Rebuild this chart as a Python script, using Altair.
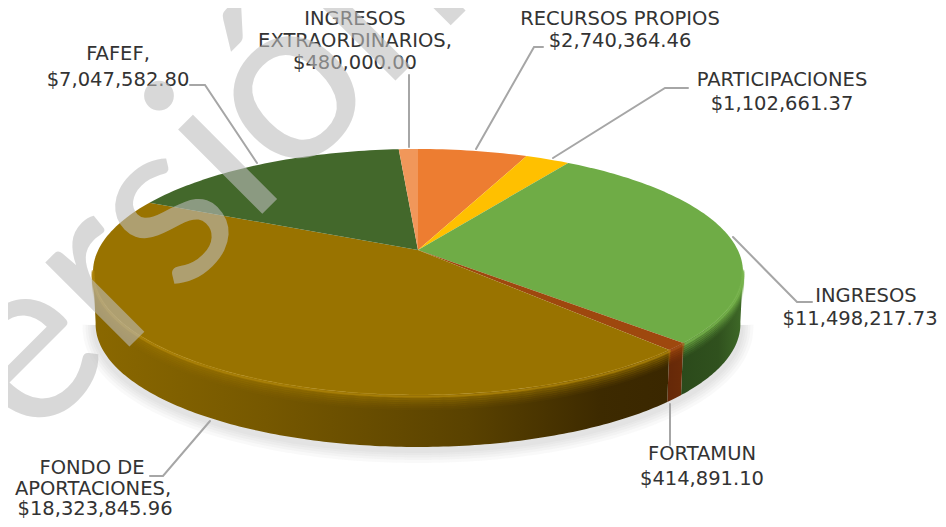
import math
import numpy as np
import pandas as pd
import altair as alt

# --- chart data
names = [["RECURSOS PROPIOS"], ["PARTICIPACIONES"], ["INGRESOS"], ["FORTAMUN"],
         ["FONDO DE", "APORTACIONES,"], ["FAFEF,"], ["INGRESOS", "EXTRAORDINARIOS,"]]
values = [2740364.46, 1102661.37, 11498217.73, 414891.10, 18323845.96, 7047582.80, 480000.00]
face_colors = ["#ed7d31", "#ffc000", "#6fac46", "#9e480e", "#997300", "#43682b", "#f1975a"]
rim_lights = [None, None, "#7cb850", "#a9521a", "#b68b0c", None, None]
wall_stops = [None, None,
              [(0, "#2b4a1b"), (0.6, "#30511e"), (1, "#3f6a28")],
              [(0, "#652808"), (1, "#6c2c08")],
              [(0, "#8a6800"), (0.3, "#765800"), (0.65, "#5a4200"), (0.88, "#3d2a00"), (1, "#3a2700")],
              None, None]

# --- layout
W, H = 930, 511
cx, cy, rx, ry = 418, 272, 325, 123      # top face ellipse
ax, ay, k = 418, 250, 0.38               # apex and tilt
depth = 52
label_xy = [[(620, 19), (620, 41)], [(782, 80), (782, 104)], [(866, 296), (860, 319)],
            [(702, 454), (702, 479)], [(92, 468), (93, 489), (95, 509)],
            [(118, 54), (118, 80)], [(355, 19), (355, 41), (355, 63)]]
leaders = [[(543, 47), (534, 47), (476, 149)],
           [(688, 88), (665, 88), (553, 158)],
           [(812, 302), (797, 302), (733, 237)],
           [(670, 445), (670, 404)],
           [(150, 476), (163, 476), (210, 421)],
           [(190, 85), (205, 85), (257, 163)],
           [(409, 75), (409, 147)]]
wm = dict(text="Versión", x=-70, y=546, size=235, angle=315)

xs = alt.X("x:Q", scale=alt.Scale(domain=[8, 938], nice=False, zero=False), axis=None)
ys = alt.Y("y:Q", scale=alt.Scale(domain=[519, 8], nice=False, zero=False), axis=None)

total = sum(values)
fracs = np.cumsum([0] + values) / total


def rim(f):
    """Point on the top ellipse for a share f of the pie, clockwise from 12 o'clock."""
    t = 2 * math.pi * f
    dx, dy = math.sin(t), -math.cos(t) * k
    ox, oy = (ax - cx) / rx, (ay - cy) / ry
    ux, uy = dx / rx, dy / ry
    a, b, c = ux**2 + uy**2, 2 * (ox * ux + oy * uy), ox**2 + oy**2 - 1
    s = (-b + math.sqrt(b * b - 4 * a * c)) / (2 * a)
    return ax + s * dx, ay + s * dy


def arc(f0, f1, n=None):
    n = n or max(4, int((f1 - f0) * 300))
    return [rim(f) for f in np.linspace(f0, f1, n)]


def front(pts):
    return [p for p in pts if p[1] >= cy - 2]


def bottom(p, d=depth, shrink=0.992):
    return cx + (p[0] - cx) * shrink, p[1] + d


def poly(pts):
    return pd.DataFrame({"x": [p[0] for p in pts], "y": [p[1] for p in pts], "o": range(len(pts))})


def shape(pts, fill):
    return alt.Chart(poly(pts)).mark_line(
        interpolate="linear-closed", fill=fill, strokeWidth=0
    ).encode(x=xs, y=ys, order="o:Q")


def path(pts, color, width, opacity=1.0):
    return alt.Chart(poly(pts)).mark_line(
        stroke=color, strokeWidth=width, opacity=opacity, strokeCap="round"
    ).encode(x=xs, y=ys, order="o:Q")


layers = []

# soft shadow under the disc
edge = [bottom(p, depth + 3) for p in front(arc(0, 1, 400))]
edge.sort(key=lambda p: p[0])
for w in (26, 20, 15, 10, 6):
    layers.append(path(edge, "#9a9a9a", w, 0.055))

# side walls, with soft band below the rim
for i, st in enumerate(wall_stops):
    if st is None:
        continue
    pts = front(arc(fracs[i], fracs[i + 1], 200))
    outline = pts + [bottom(p) for p in reversed(pts)]
    fill = alt.LinearGradient(gradient="linear", x1=0, x2=1, y1=0, y2=0,
                              stops=[alt.GradientStop(offset=o, color=c) for o, c in st])
    layers.append(shape(outline, fill))

for i, st in enumerate(wall_stops):
    if st is None:
        continue
    pts = front(arc(fracs[i], fracs[i + 1], 200))
    for off, op in zip((2, 4, 6, 8, 10, 12, 14), (0.75, 0.55, 0.42, 0.3, 0.2, 0.12, 0.06)):
        layers.append(path([(p[0], p[1] + off) for p in pts], face_colors[i], 2.4, op))

# top face
for i, c in enumerate(face_colors):
    pts = [(ax, ay)] + arc(fracs[i], fracs[i + 1])
    layers.append(shape(pts, c))

# light catch along the front edge of the top face
for i, c in enumerate(rim_lights):
    if c is None:
        continue
    pts = front(arc(fracs[i], fracs[i + 1], 200))
    layers.append(path([(p[0], p[1] + 1) for p in pts], c, 3, 0.6))

# leader lines
for pts in leaders:
    layers.append(path(pts, "#a6a6a6", 2))

# labels
rows = []
for nm, v, xy in zip(names, values, label_xy):
    lines = nm + [f"${v:,.2f}"]
    for line, (x, y) in zip(lines, xy):
        rows.append({"x": x, "y": y, "t": line})
layers.append(alt.Chart(pd.DataFrame(rows)).mark_text(
    font="DejaVu Sans", fontSize=19.5, color="#333333", align="center", baseline="middle"
).encode(x=xs, y=ys, text="t:N"))

# watermark
layers.append(alt.Chart(pd.DataFrame([{"x": wm["x"], "y": wm["y"], "t": wm["text"]}])).mark_text(
    font="Lato", fontSize=wm["size"], angle=wm["angle"], color="#bebebe",
    opacity=0.59, align="left", baseline="alphabetic"
).encode(x=xs, y=ys, text="t:N"))

chart = alt.layer(*layers).properties(
    width=W, height=H, padding=0, autosize=alt.AutoSizeParams(type="none"),
    background="white"
).configure_view(strokeWidth=0)

chart.save("out.html", embed_options={"renderer": "svg", "actions": False})
